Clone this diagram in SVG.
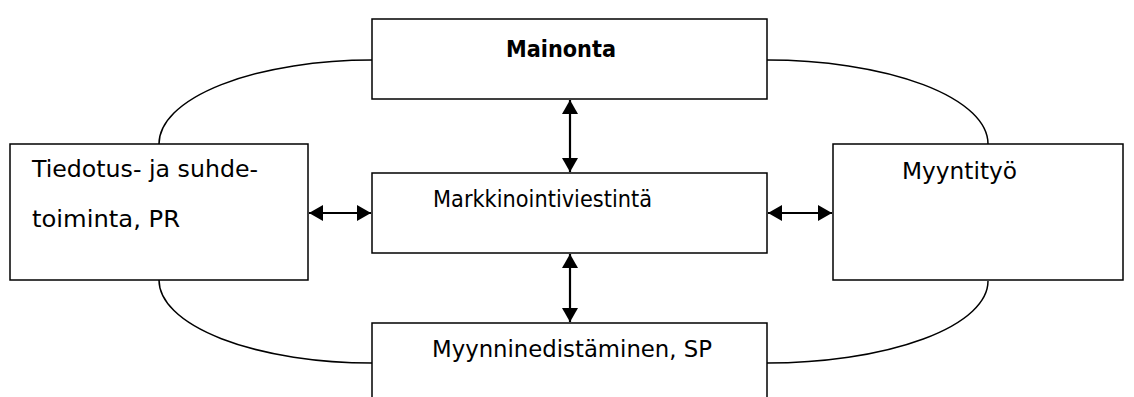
<svg xmlns="http://www.w3.org/2000/svg" width="1134" height="397" viewBox="0 0 1134 397">
<style>
.box{fill:#fff;stroke:#000;stroke-width:1.5}
.arc{fill:none;stroke:#000;stroke-width:1.5}
.arr{fill:none;stroke:#000;stroke-width:2.2}
text{font-family:"DejaVu Sans","Liberation Sans",sans-serif;font-size:23.5px;fill:#000}
.b{font-weight:bold;font-size:23px}
.n{font-size:22.5px}
</style>
<defs>
<marker id="ah" markerUnits="userSpaceOnUse" markerWidth="14" markerHeight="16" refX="14" refY="8" orient="auto-start-reverse" viewBox="0 0 14 16">
<path d="M0,0 L14,8 L0,16 z" fill="#000"/>
</marker>
</defs>
<rect width="1134" height="397" fill="#fff"/>
<g id="connectors">
<path class="arc" d="M159,144 A213,84 0 0 1 372,60"/>
<path class="arc" d="M767,60 A221,84 0 0 1 988,144"/>
<path class="arc" d="M159,280 A213,83 0 0 0 372,363"/>
<path class="arc" d="M767,363 A221,82 0 0 0 988,281"/>
<line class="arr" x1="570" y1="100" x2="570" y2="172" marker-start="url(#ah)" marker-end="url(#ah)"/>
<line class="arr" x1="570" y1="254" x2="570" y2="322" marker-start="url(#ah)" marker-end="url(#ah)"/>
<line class="arr" x1="309" y1="213" x2="371" y2="213" marker-start="url(#ah)" marker-end="url(#ah)"/>
<line class="arr" x1="768" y1="213" x2="832" y2="213" marker-start="url(#ah)" marker-end="url(#ah)"/>
</g>
<g id="mainonta">
<rect class="box" x="372" y="19" width="395" height="80"/>
<text class="b" x="506" y="57" textLength="110" lengthAdjust="spacingAndGlyphs">Mainonta</text>
</g>
<g id="markkinointiviestinta">
<rect class="box" x="372" y="173" width="395" height="80"/>
<text class="n" x="433" y="207" textLength="219" lengthAdjust="spacingAndGlyphs">Markkinointiviestintä</text>
</g>
<g id="tiedotus">
<rect class="box" x="10" y="144" width="298" height="136"/>
<text x="32" y="177" textLength="226" lengthAdjust="spacingAndGlyphs">Tiedotus- ja suhde-</text>
<text x="32" y="227" textLength="148" lengthAdjust="spacingAndGlyphs">toiminta, PR</text>
</g>
<g id="myyntityo">
<rect class="box" x="833" y="144" width="290" height="136"/>
<text x="902" y="179" textLength="115" lengthAdjust="spacingAndGlyphs">Myyntityö</text>
</g>
<g id="myynninedistaminen">
<rect class="box" x="372" y="323" width="395" height="90"/>
<text x="432" y="357" textLength="280" lengthAdjust="spacingAndGlyphs">Myynninedistäminen, SP</text>
</g>
</svg>
